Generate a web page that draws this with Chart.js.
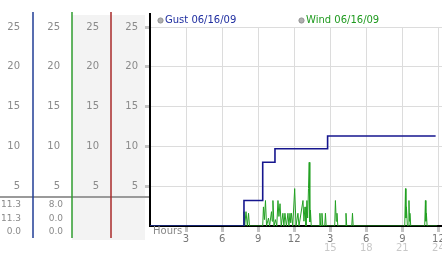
<!DOCTYPE html>
<html>
<head>
<meta charset="utf-8">
<script src="https://cdn.jsdelivr.net/npm/chart.js@4.4.0/dist/chart.umd.min.js"></script>
<style>
  html, body { margin: 0; padding: 0; background: #fff; }
  #wrap { width: 442px; height: 253px; }
</style>
</head>
<body>
<div id="wrap"><canvas id="windChart" width="442" height="253"></canvas></div>
<script>
var gustLabel = 'Gust 06/16/09';
var windLabel = 'Wind 06/16/09';

// gust: hour where each new level starts, mph
var gustHours = [0, 7.82, 9.38, 10.4, 14.78, 23.77];
var gustSpeeds = [0, 3.2, 8.0, 9.7, 11.3, 11.3];

// wind samples (hour, mph)
var windHours = [
  0, 7.76, 7.82, 7.88, 7.99, 8.1, 8.2, 8.28,
  9.38, 9.44, 9.52, 9.61, 9.7, 9.86, 9.95,
  10.11, 10.17, 10.23, 10.32, 10.44, 10.55, 10.65, 10.73, 10.82, 10.92,
  11.06, 11.14, 11.23, 11.35, 11.48, 11.56, 11.65, 11.71, 11.77, 11.88,
  12.04, 12.15, 12.31, 12.4, 12.73, 12.81, 12.9, 12.98,
  13.06, 13.12, 13.19, 13.25, 13.3, 13.35, 13.42,
  14.08, 14.14, 14.2, 14.25, 14.31, 14.38, 14.54, 14.6, 14.66,
  15.37, 15.43, 15.5, 15.56, 15.63, 16.25, 16.31, 16.37, 16.79, 16.85, 16.91,
  21.2, 21.26, 21.3, 21.34, 21.42, 21.5, 21.55, 21.59, 21.63, 21.7,
  22.86, 22.92, 22.96, 23.0, 23.06, 23.9
];
var windSpeeds = [
  0, 0, 1.8, 0, 1.8, 0, 1.6, 0,
  0, 2.4, 0.8, 3.2, 0, 1.0, 0,
  1.8, 0.6, 3.2, 0, 0.8, 0, 3.2, 1.2, 2.8, 0,
  1.6, 0, 1.6, 0, 1.6, 0, 1.6, 0.4, 1.6, 0,
  4.7, 0, 1.6, 0, 3.2, 0.6, 2.4, 0,
  3.2, 1.0, 4.7, 8.0, 0.5, 2.0, 0,
  0, 1.6, 0, 0, 1.6, 0, 0, 1.6, 0,
  0, 3.2, 0.6, 1.6, 0, 0, 1.6, 0, 0, 1.6, 0,
  0, 4.7, 1.0, 2.4, 0, 0, 3.2, 0.6, 1.6, 0,
  0, 3.2, 0.6, 1.6, 0, 0
];

var hourTicks = [3, 6, 9, 12, 15, 18, 21, 24];
var clockLabels = ['3', '6', '9', '12', '3', '6', '9', '12'];
var dayLabels = ['', '', '', '', '15', '18', '21', '24'];
var speedTicks = [5, 10, 15, 20, 25];

// summary rows under the scales
var gustStats = ['11.3', '11.3', '0.0'];
var windStats = ['8.0', '0.0', '0.0'];

Chart.defaults.font.family = 'DejaVu Sans';
Chart.defaults.font.size = 10;

function toPoints(xs, ys) {
  return xs.map(function (x, i) { return { x: x, y: ys[i] }; });
}

function setSpeedTicks(scale) {
  scale.ticks = speedTicks.map(function (v) { return { value: v }; });
}

function columnAxis(weight, width, pad) {
  return {
    type: 'linear', position: 'left', weight: weight,
    min: 0, max: 25,
    grid: { display: false, drawTicks: false }, border: { display: false },
    ticks: { color: '#8a8a8a', padding: pad },
    afterBuildTicks: setSpeedTicks,
    afterFit: function (scale) { scale.width = width; }
  };
}

var panelPlugin = {
  id: 'panel',
  beforeDraw: function (chart) {
    var ctx = chart.ctx, s = chart.scales;
    ctx.save();
    ctx.fillStyle = '#f3f3f3';
    ctx.fillRect(s.y3.left, 15, s.y3.width, 225);
    ctx.fillRect(s.y.left, 15, s.y.width - 5, 225);
    ctx.restore();
  },
  afterDraw: function (chart) {
    var ctx = chart.ctx, s = chart.scales, area = chart.chartArea;
    ctx.save();
    // separator above the summary rows
    ctx.fillStyle = '#9a9a9a';
    ctx.fillRect(0, 196, s.y.right - 1, 2);

    var cols = [[s.y1, '#203c96'], [s.y2, '#2f9d2f'], [s.y3, '#a82a2a']];
    ctx.lineWidth = 1.5;
    cols.forEach(function (c) {
      ctx.strokeStyle = c[1];
      ctx.beginPath();
      ctx.moveTo(c[0].right, 12);
      ctx.lineTo(c[0].right, 238);
      ctx.stroke();
    });
    ctx.fillStyle = '#000';
    ctx.fillRect(s.y.right - 1, 13, 2, area.top - 13);

    // summary values
    ctx.font = '9px DejaVu Sans';
    ctx.fillStyle = '#8a8a8a';
    ctx.textAlign = 'right';
    ctx.textBaseline = 'middle';
    for (var i = 0; i < gustStats.length; i++) {
      ctx.fillText(gustStats[i], s.y1.right - 12, 205 + i * 13.3);
      ctx.fillText(windStats[i], s.y2.right - 9, 205 + i * 13.3);
    }

    // legend
    ctx.font = '10px DejaVu Sans';
    var items = [[gustLabel, '#1f2ea0', area.left + 10.5], [windLabel, '#1f9a1f', area.left + 151.5]];
    ctx.textAlign = 'left';
    items.forEach(function (it) {
      ctx.fillStyle = '#b0b0b0';
      ctx.strokeStyle = '#909090';
      ctx.lineWidth = 1;
      ctx.beginPath();
      ctx.arc(it[2], 20.5, 2.6, 0, Math.PI * 2);
      ctx.fill();
      ctx.stroke();
      ctx.fillStyle = it[1];
      ctx.fillText(it[0], it[2] + 4.5, 20.5);
    });

    ctx.fillStyle = '#888';
    ctx.fillText('Hours', area.left + 3, 231.5);
    ctx.restore();
  }
};

new Chart(document.getElementById('windChart').getContext('2d'), {
  type: 'line',
  data: {
    datasets: [{
      label: gustLabel,
      data: toPoints(gustHours, gustSpeeds),
      borderColor: '#16168e',
      borderWidth: 1.6,
      stepped: 'before',
      pointRadius: 0,
      fill: false
    }, {
      label: windLabel,
      data: toPoints(windHours, windSpeeds),
      borderColor: '#22a022',
      borderWidth: 1,
      pointRadius: 0,
      tension: 0,
      fill: false
    }]
  },
  options: {
    responsive: false,
    animation: false,
    layout: { padding: { top: 27, right: 0, bottom: 0, left: 0 } },
    plugins: { legend: { display: false }, tooltip: { enabled: false } },
    scales: {
      x: {
        type: 'linear', position: 'bottom', weight: 0,
        min: 0, max: 24.3,
        grid: { color: '#dcdcdc', tickColor: '#c4c4c4', tickLength: 6, tickWidth: 3 },
        border: { color: '#000', width: 2 },
        ticks: {
          color: '#777', padding: 1, autoSkip: false, maxRotation: 0,
          callback: function (v, i) { return clockLabels[i]; }
        },
        afterBuildTicks: function (scale) {
          scale.ticks = hourTicks.map(function (v) { return { value: v }; });
        },
        afterFit: function (scale) { scale.height = 16; scale.paddingLeft = 0; scale.paddingRight = 0; }
      },
      x2: {
        type: 'linear', position: 'bottom', weight: 1,
        min: 0, max: 24.3,
        grid: { display: false, drawTicks: false }, border: { display: false },
        ticks: {
          color: '#c8c8c8', padding: 0, autoSkip: false, maxRotation: 0,
          callback: function (v, i) { return dayLabels[i]; }
        },
        afterBuildTicks: function (scale) {
          scale.ticks = hourTicks.map(function (v) { return { value: v }; });
        },
        afterFit: function (scale) { scale.height = 11; scale.paddingLeft = 0; scale.paddingRight = 0; }
      },
      y1: columnAxis(4, 33, 13),
      y2: columnAxis(3, 39, 12),
      y3: columnAxis(2, 39, 12),
      y: {
        type: 'linear', position: 'left', weight: 1,
        min: 0, max: 25,
        grid: { color: '#dcdcdc', tickColor: '#c4c4c4', tickLength: 5, tickWidth: 3 },
        border: { color: '#000', width: 2 },
        ticks: { color: '#8a8a8a', padding: 7 },
        afterBuildTicks: setSpeedTicks,
        afterFit: function (scale) { scale.width = 39; }
      }
    }
  },
  plugins: [panelPlugin]
});
</script>
</body>
</html>
